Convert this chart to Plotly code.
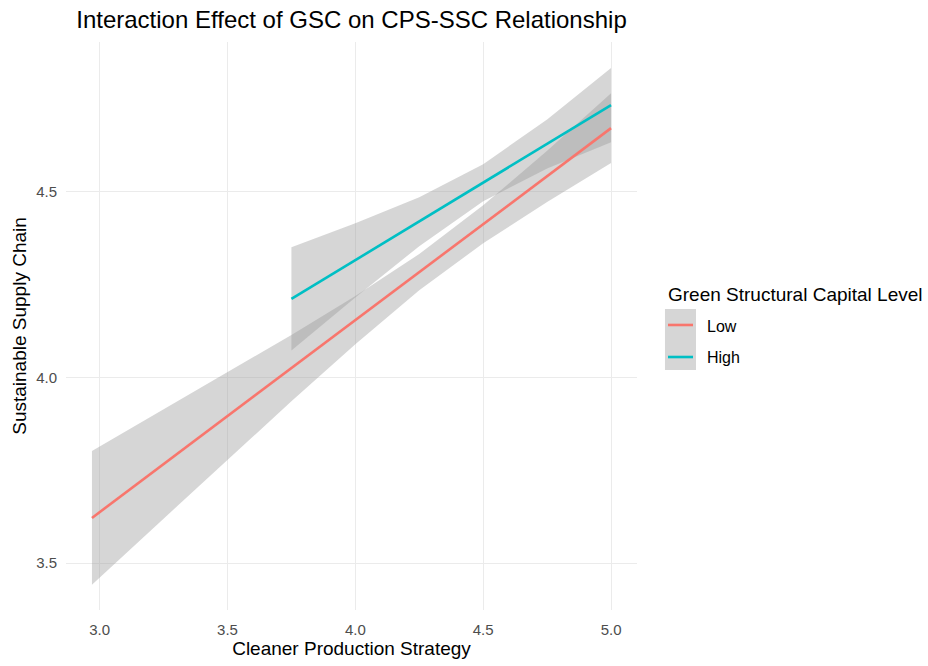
import plotly.graph_objects as go

# Read values (Cleaner Production Strategy -> Sustainable Supply Chain)
low_x = [2.97, 3.25, 3.5, 3.75, 4.0, 4.25, 4.5, 4.75, 5.0]
low_fit = [3.622, 3.767, 3.896, 4.025, 4.155, 4.284, 4.413, 4.542, 4.672]
low_lo = [3.442, 3.620, 3.779, 3.936, 4.090, 4.235, 4.362, 4.473, 4.578]
low_hi = [3.802, 3.914, 4.013, 4.115, 4.220, 4.333, 4.464, 4.611, 4.766]

high_x = [3.75, 4.0, 4.25, 4.5, 4.75, 5.0]
high_fit = [4.212, 4.316, 4.420, 4.525, 4.629, 4.734]
high_lo = [4.073, 4.216, 4.354, 4.475, 4.563, 4.634]
high_hi = [4.351, 4.416, 4.486, 4.575, 4.695, 4.834]

x_ticks = [3.0, 3.5, 4.0, 4.5, 5.0]
y_ticks = [3.5, 4.0, 4.5]
series_names = ["Low", "High"]
series_colors = ["#F8766D", "#00BFC4"]
band_color = "rgba(153,153,153,0.4)"

FONT = "Liberation Sans, Arial, sans-serif"
LW = 2.6

fig = go.Figure()
for xs, lo, hi in [(low_x, low_lo, low_hi), (high_x, high_lo, high_hi)]:
    fig.add_trace(go.Scatter(x=xs + xs[::-1], y=hi + lo[::-1], fill="toself",
                             fillcolor=band_color, line=dict(width=0),
                             mode="lines", showlegend=False, hoverinfo="skip"))
for xs, fit, name, col in [
    (low_x, low_fit, series_names[0], series_colors[0]),
    (high_x, high_fit, series_names[1], series_colors[1]),
]:
    fig.add_trace(go.Scatter(x=xs, y=fit, mode="lines", name=name,
                             line=dict(color=col, width=LW), showlegend=False))

# custom ggplot-style legend
shapes = [
    dict(type="rect", xref="paper", yref="paper", x0=1.049, x1=1.1033,
         y0=0.4225, y1=0.5299, fillcolor="#d6d6d6", line=dict(width=0), layer="above"),
    dict(type="line", xref="paper", yref="paper", x0=1.0543, x1=1.0981,
         y0=0.5018, y1=0.5018, line=dict(color=series_colors[0], width=LW)),
    dict(type="line", xref="paper", yref="paper", x0=1.0543, x1=1.0981,
         y0=0.4454, y1=0.4454, line=dict(color=series_colors[1], width=LW)),
]
annotations = [
    dict(text="Green Structural Capital Level", xref="paper", yref="paper",
         x=1.0508, y=0.5546, xanchor="left", yanchor="middle", showarrow=False,
         font=dict(family=FONT, size=19, color="#000000")),
    dict(text=series_names[0], xref="paper", yref="paper", x=1.1191, y=0.5,
         xanchor="left", yanchor="middle", showarrow=False,
         font=dict(family=FONT, size=16, color="#000000")),
    dict(text=series_names[1], xref="paper", yref="paper", x=1.1191, y=0.4437,
         xanchor="left", yanchor="middle", showarrow=False,
         font=dict(family=FONT, size=16, color="#000000")),
]

fig.update_layout(
    width=928, height=666,
    margin=dict(l=66, r=291, t=42, b=56),
    paper_bgcolor="white", plot_bgcolor="white",
    title=dict(text="Interaction Effect of GSC on CPS-SSC Relationship",
               x=(66 + 637) / 2 / 928, xanchor="center", y=1 - 20 / 666, yanchor="middle",
               font=dict(family=FONT, size=24, color="#000000")),
    font=dict(family=FONT),
    shapes=shapes, annotations=annotations,
    showlegend=False,
)
fig.update_xaxes(range=[2.8685, 5.1015], tickvals=x_ticks,
                 ticktext=[f"{v:.1f}" for v in x_ticks],
                 showgrid=True, gridcolor="#ebebeb", gridwidth=1, zeroline=False,
                 showline=False, ticks="", ticklabelstandoff=9,
                 tickfont=dict(family=FONT, size=15, color="#4d4d4d"),
                 title=dict(text="Cleaner Production Strategy", standoff=3,
                            font=dict(family=FONT, size=19, color="#000000")))
fig.update_yaxes(range=[3.374, 4.904], tickvals=y_ticks,
                 ticktext=[f"{v:.1f}" for v in y_ticks],
                 showgrid=True, gridcolor="#ebebeb", gridwidth=1, zeroline=False,
                 showline=False, ticks="", ticklabelstandoff=8,
                 tickfont=dict(family=FONT, size=15, color="#4d4d4d"),
                 title=dict(text="Sustainable Supply Chain", standoff=4,
                            font=dict(family=FONT, size=19, color="#000000")))

fig.write_html("out.html")
